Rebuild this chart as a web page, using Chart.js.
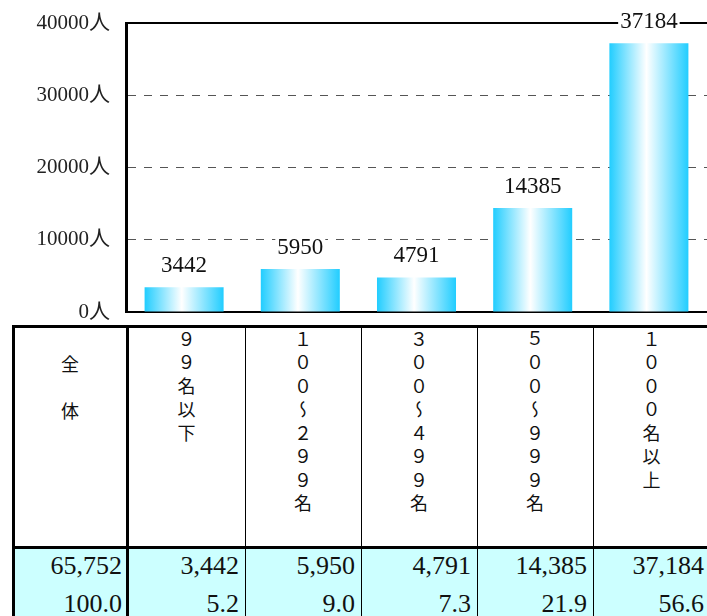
<!DOCTYPE html>
<html lang="ja">
<head>
<meta charset="utf-8">
<script src="https://cdn.jsdelivr.net/npm/chart.js@4"></script>
<style>
  html, body { margin: 0; padding: 0; background: #fff; overflow: hidden; }
  #wrap { position: relative; width: 707px; height: 616px; overflow: hidden; }
  #chartBox { position: absolute; left: 0; top: 0; width: 707px; height: 322px; }
  .line { position: absolute; background: #000; }
  .bg { position: absolute; background: #ccffff; }
  .head { position: absolute; display: flex; justify-content: center; align-items: flex-start; }
  .vtext {
    writing-mode: vertical-rl;
    text-orientation: upright;
    font-family: "Noto Sans CJK JP", sans-serif;
    font-size: 18px;
    line-height: 24px;
    letter-spacing: 5.5px;
    color: #111;
  }
  .num {
    position: absolute;
    box-sizing: border-box;
    text-align: right;
    padding-right: 6px;
    font-family: "Liberation Serif", "DejaVu Serif", serif;
    font-size: 26px;
    color: #111;
  }
</style>
</head>
<body>
<div id="wrap">
  <div id="chartBox"><canvas id="chart"></canvas></div>
  <div id="table"></div>
</div>
<script>
const categories = ["９９名以下", "１００～２９９名", "３００～４９９名", "５００～９９９名", "１０００名以上"];
const counts = [3442, 5950, 4791, 14385, 37184];
const percents = [5.2, 9.0, 7.3, 21.9, 56.6];
const totalLabel = "全　体";
const totalCount = 65752;
const totalPercent = 100.0;
const yTicks = [0, 10000, 20000, 30000, 40000];
const unit = "人";

const cyan = "#21cdff";
const serif = "'Liberation Serif', 'DejaVu Serif', 'Noto Sans CJK JP', serif";

function barGradient(context) {
  const chart = context.chart;
  const xScale = chart.scales.x;
  if (context.type !== "data" || !chart.chartArea || !xScale) return cyan;
  const cx = xScale.getPixelForValue(context.dataIndex);
  const half = (xScale.width / categories.length) * 0.68 / 2;
  const g = chart.ctx.createLinearGradient(cx - half, 0, cx + half, 0);
  g.addColorStop(0, cyan);
  g.addColorStop(0.47, "#ffffff");
  g.addColorStop(1, cyan);
  return g;
}

// value above each bar, on a white patch so the grid line breaks
const valueLabels = {
  id: "valueLabels",
  afterDatasetsDraw(chart) {
    const ctx = chart.ctx;
    const meta = chart.getDatasetMeta(0);
    ctx.save();
    ctx.font = "23px " + serif;
    ctx.textAlign = "center";
    ctx.textBaseline = "middle";
    meta.data.forEach((bar, i) => {
      const text = String(counts[i]);
      const y = bar.y - 22;
      const w = ctx.measureText(text).width;
      ctx.fillStyle = "#fff";
      ctx.fillRect(bar.x - w / 2 - 2, y - 10, w + 4, 20);
      ctx.fillStyle = "#111";
      ctx.fillText(text, bar.x, y + 1);
    });
    ctx.restore();
  },
};

new Chart(document.getElementById("chart"), {
  type: "bar",
  data: {
    labels: categories,
    datasets: [
      {
        data: counts,
        backgroundColor: barGradient,
        borderWidth: 0,
        barPercentage: 0.68,
        categoryPercentage: 1,
      },
    ],
  },
  options: {
    responsive: true,
    maintainAspectRatio: false,
    animation: false,
    layout: { padding: { top: 23, bottom: 10, left: 0, right: 0 } },
    plugins: {
      legend: { display: false },
      tooltip: { enabled: false },
    },
    scales: {
      x: {
        grid: { display: false },
        ticks: { display: false },
        border: { color: "#000", width: 2 },
        afterFit: (s) => { s.height = 0; },
      },
      y: {
        min: 0,
        max: 40000,
        afterBuildTicks: (s) => { s.ticks = yTicks.map((v) => ({ value: v })); },
        ticks: {
          padding: 16,
          color: "#222",
          font: { family: serif, size: 21 },
          callback: (v) => v + unit,
        },
        grid: {
          drawTicks: false,
          color: (c) => {
            const v = c.tick ? c.tick.value : null;
            if (v === 40000) return "#000";
            if (v === 0) return "rgba(0,0,0,0)";
            return "#555";
          },
          lineWidth: (c) => (c.tick && c.tick.value === 40000 ? 2 : 1),
        },
        border: {
          color: "#000",
          width: 3,
          dash: (c) => (c.tick && c.tick.value === 40000 ? [] : [8, 8]),
        },
        afterFit: (s) => {
          s.width = 126;
          s.paddingTop = 0;
          s.paddingBottom = 0;
        },
      },
    },
  },
  plugins: [valueLabels],
});

// table under the chart
const colEdges = [12, 128, 245, 361, 477, 593, 710];
const table = document.getElementById("table");

function addDiv(cls, style, html) {
  const d = document.createElement("div");
  d.className = cls;
  Object.assign(d.style, style);
  if (html !== undefined) d.innerHTML = html;
  table.appendChild(d);
  return d;
}

addDiv("bg", { left: "15px", top: "549px", width: "692px", height: "67px" });

const headLabels = [totalLabel, ...categories];
const rowCounts = [totalCount, ...counts].map((v) => v.toLocaleString("en-US"));
const rowPercents = [totalPercent, ...percents].map((v) => v.toFixed(1));

headLabels.forEach((label, i) => {
  const left = colEdges[i];
  const width = colEdges[i + 1] - left;
  addDiv("head", {
    left: left + "px", top: "328px", width: width + "px", height: "218px",
    paddingTop: (i === 0 ? 27 : 2) + "px", boxSizing: "border-box",
  }, '<div class="vtext">' + label + "</div>");
  addDiv("num", {
    left: left + "px", top: "549px", width: width + "px", height: "34px", lineHeight: "34px",
  }, rowCounts[i]);
  addDiv("num", {
    left: left + "px", top: "587px", width: width + "px", height: "34px", lineHeight: "34px",
  }, rowPercents[i]);
});

// grid lines of the table
addDiv("line", { left: "12px", top: "325px", width: "695px", height: "3px" });
addDiv("line", { left: "12px", top: "546px", width: "695px", height: "3px" });
addDiv("line", { left: "12px", top: "325px", width: "3px", height: "291px" });
addDiv("line", { left: "126px", top: "325px", width: "3px", height: "291px" });
colEdges.slice(2, 6).forEach((x) => {
  addDiv("line", { left: x + "px", top: "326px", width: "1px", height: "290px" });
});
</script>
</body>
</html>
